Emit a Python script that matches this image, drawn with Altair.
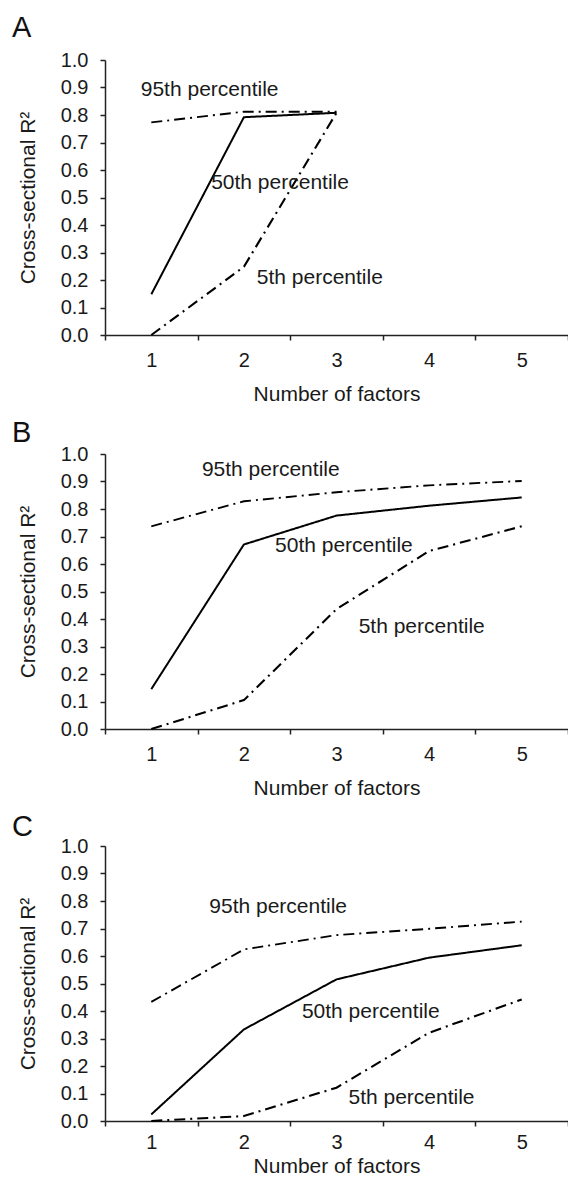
import altair as alt
import pandas as pd

# ---- data ----
factors = [1, 2, 3, 4, 5]
series_names = ["95th percentile", "50th percentile", "5th percentile"]

a_p95 = [0.773, 0.812, 0.812]
a_p50 = [0.148, 0.792, 0.808]
a_p5 = [0.0, 0.248, 0.808]

b_p95 = [0.737, 0.828, 0.861, 0.886, 0.902]
b_p50 = [0.145, 0.671, 0.776, 0.812, 0.842]
b_p5 = [0.0, 0.105, 0.436, 0.647, 0.737]

c_p95 = [0.433, 0.624, 0.676, 0.699, 0.725]
c_p50 = [0.024, 0.333, 0.515, 0.594, 0.639]
c_p5 = [0.0, 0.018, 0.121, 0.321, 0.442]

# annotation positions (data units)
a_lab_x = [1.63, 2.39, 2.82]
a_lab_y = [0.891, 0.553, 0.207]
b_lab_x = [2.29, 3.08, 3.92]
b_lab_y = [0.942, 0.665, 0.372]
c_lab_x = [2.37, 3.37, 3.81]
c_lab_y = [0.779, 0.396, 0.085]

panel_letters = ["A", "B", "C"]
letter_offsets = [-23, -12, -10]

x_tick_values = [0.5, 1, 1.5, 2, 2.5, 3, 3.5, 4, 4.5, 5, 5.5]
y_tick_values = [0.0, 0.1, 0.2, 0.3, 0.4, 0.5, 0.6, 0.7, 0.8, 0.9, 1.0]

FONT = "Liberation Sans"
DASH = [11, 5, 2, 5]


def x_axis(label_pad, title_pad):
    return alt.Axis(
        values=x_tick_values,
        labelExpr="datum.value % 1 == 0 ? format(datum.value, 'd') : ''",
        tickOpacity={"condition": {"test": "datum.value % 1 == 0", "value": 0}, "value": 1},
        tickSize=5,
        labelPadding=label_pad,
        title="Number of factors",
        titlePadding=title_pad,
        grid=False,
        labelOverlap=False,
        labelFlush=False,
    )


Y_AXIS = alt.Axis(
    values=y_tick_values,
    format=".1f",
    tickSize=5,
    labelPadding=12,
    title="Cross-sectional R²",
    titlePadding=22,
    grid=False,
    labelOverlap=False,
    labelFlush=False,
)


def make_df(p95, p50, p5):
    rows = []
    for name, vals in zip(series_names, [p95, p50, p5]):
        for f, v in zip(factors, vals):
            rows.append({"factor": f, "r2": v, "series": name})
    return pd.DataFrame(rows)


def panel(letter, letter_dy, p95, p50, p5, lx, ly, label_pad=10, title_pad=13):
    df = make_df(p95, p50, p5)
    lab = pd.DataFrame({"x": lx, "y": ly, "t": series_names})
    xs = alt.Scale(domain=[0.5, 5.5], nice=False, zero=False)
    ys = alt.Scale(domain=[0, 1], nice=False, zero=False)
    xa = x_axis(label_pad, title_pad)
    lines = alt.Chart(df).mark_line(color="black", strokeCap="butt").encode(
        x=alt.X("factor:Q", scale=xs, axis=xa),
        y=alt.Y("r2:Q", scale=ys, axis=Y_AXIS),
        strokeDash=alt.StrokeDash(
            "series:N",
            scale=alt.Scale(domain=series_names, range=[DASH, [1, 0], DASH]),
            legend=None,
        ),
        strokeWidth=alt.StrokeWidth(
            "series:N",
            scale=alt.Scale(domain=series_names, range=[1.9, 2.1, 1.9]),
            legend=None,
        ),
        detail="series:N",
    )
    labels = alt.Chart(lab).mark_text(
        font=FONT, fontSize=21, align="center", baseline="middle", color="#1a1a1a"
    ).encode(
        x=alt.X("x:Q", scale=xs, axis=xa),
        y=alt.Y("y:Q", scale=ys, axis=Y_AXIS),
        text="t:N",
    )
    let = alt.Chart(pd.DataFrame({"t": [letter]})).mark_text(
        font=FONT, fontSize=29, align="left", baseline="alphabetic", color="#111"
    ).encode(x=alt.value(-93), y=alt.value(letter_dy), text="t:N")
    return alt.layer(lines, labels, let).properties(width=463, height=275)


pa = panel(panel_letters[0], letter_offsets[0], a_p95, a_p50, a_p5, a_lab_x, a_lab_y)
pb = panel(panel_letters[1], letter_offsets[1], b_p95, b_p50, b_p5, b_lab_x, b_lab_y)
pc = panel(panel_letters[2], letter_offsets[2], c_p95, c_p50, c_p5, c_lab_x, c_lab_y,
           label_pad=6, title_pad=3)

chart = (
    alt.vconcat(pa, pb, pc, spacing=15)
    .properties(padding={"left": 4, "top": 6, "right": -1, "bottom": 0}, background="white")
    .configure_view(stroke=None)
    .configure_axis(
        labelFont=FONT,
        titleFont=FONT,
        labelFontSize=20,
        titleFontSize=21,
        titleFontWeight="normal",
        labelColor="#1a1a1a",
        titleColor="#1a1a1a",
        domainColor="#222",
        tickColor="#222",
        domainWidth=1.5,
        tickWidth=1.5,
    )
)

chart.save("out.html", embed_options={"renderer": "svg", "actions": False})
